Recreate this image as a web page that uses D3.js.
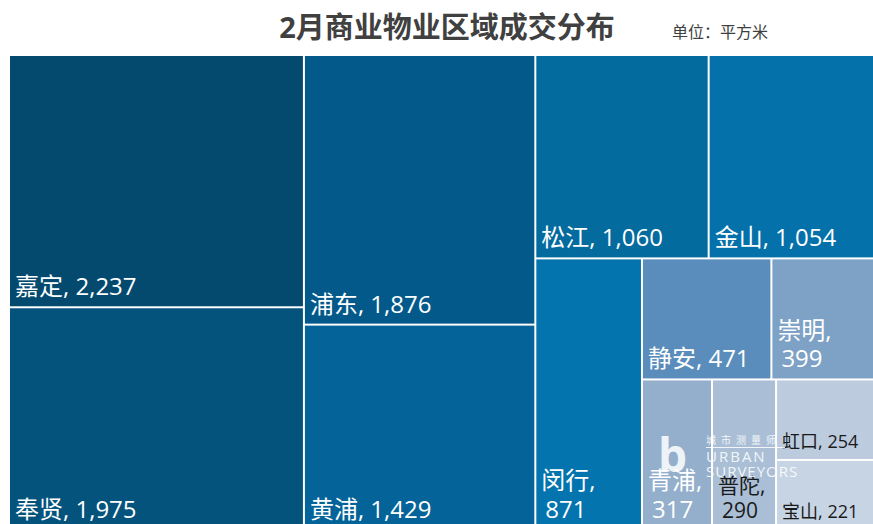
<!DOCTYPE html>
<html>
<head>
<meta charset="utf-8">
<script src="https://cdn.jsdelivr.net/npm/d3@7"></script>
<style>
  html, body { margin: 0; padding: 0; background: #fff; }
  svg { display: block; }
</style>
</head>
<body>
<div id="chart"></div>
<script>
// ── Data ─────────────────────────────────────
const DISTRICTS = ["嘉定","奉贤","浦东","黄浦","松江","金山","闵行","静安","崇明","青浦","普陀","虹口","宝山"];
const AREAS     = [2237, 1975, 1876, 1429, 1060, 1054, 871, 471, 399, 317, 290, 254, 221];
// how many cells go in each strip of the tiling (Excel-style squarify)
const ROW_COUNTS = [2, 2, 2, 1, 2, 1, 1, 1, 1];

// ── Styles ───────────────────────────────────
const CELL_COLORS = ["#034a6e","#03537d","#035a8a","#04649a","#046b9f","#0471aa","#0474ae",
                     "#5a8dbb","#7ea2c5","#93afcc","#aabfd6","#bccbde","#c7d4e4"];
const DARK_TEXT   = ["普陀","虹口","宝山"];
const SMALL_FONT  = { "普陀": 21, "虹口": 18, "宝山": 18 };

const W = 873, H = 524;
const FONT = "'Segoe UI','Open Sans','Noto Sans CJK SC',sans-serif";
const TM = { left: 10, top: 56, width: 870, height: 473 };

const svg = d3.select("#chart").append("svg").attr("width", W).attr("height", H);

// Title
svg.append("text").attr("x", 447).attr("y", 38)
  .attr("text-anchor","middle").attr("font-size","29px").attr("font-weight","bold")
  .attr("font-family", FONT).attr("fill","#404040")
  .text("2月商业物业区域成交分布");
svg.append("text").attr("x", 672).attr("y", 38)
  .attr("font-size","16px").attr("font-family", FONT).attr("fill","#404040")
  .text("单位：平方米");

// ── Tiling: strips along the shorter side, fixed strip sizes ─
function stripTile(parent, x0, y0, x1, y1) {
  const nodes = parent.children;
  let value = parent.value, i = 0, r = 0;
  while (i < nodes.length) {
    const n = ROW_COUNTS[r++] || nodes.length - i;
    const row = nodes.slice(i, i + n);
    i += n;
    const rowValue = d3.sum(row, d => d.value);
    const strip = { children: row, value: rowValue };
    if (x1 - x0 >= y1 - y0) {
      const w = value ? (x1 - x0) * rowValue / value : 0;
      d3.treemapSlice(strip, x0, y0, x0 + w, y1);
      x0 += w;
    } else {
      const h = value ? (y1 - y0) * rowValue / value : 0;
      d3.treemapDice(strip, x0, y0, x1, y0 + h);
      y0 += h;
    }
    value -= rowValue;
  }
}

// ── Treemap layout ───────────────────────────
const root = d3.hierarchy({ children: DISTRICTS.map((name, i) => ({ name, value: AREAS[i] })) })
  .sum(d => d.value || 0)
  .sort((a, b) => b.value - a.value);

d3.treemap()
  .tile(stripTile)
  .size([TM.width, TM.height])
  .paddingInner(2)(root);

const color = d3.scaleOrdinal().domain(DISTRICTS).range(CELL_COLORS);
const fmt = d3.format(",");

const plot = svg.append("g").attr("transform", `translate(${TM.left},${TM.top})`);
const cells = plot.selectAll(".cell").data(root.leaves()).join("g").attr("class","cell");

cells.append("rect")
  .attr("x", d => d.x0).attr("y", d => d.y0)
  .attr("width", d => d.x1 - d.x0).attr("height", d => d.y1 - d.y0)
  .attr("fill", d => color(d.data.name));

// Labels: bottom-left, wrap onto two lines when too wide
cells.each(function (d) {
  const g = d3.select(this);
  const size = SMALL_FONT[d.data.name] || 24;
  const fill = DARK_TEXT.includes(d.data.name) ? "#1a1a1a" : "#ffffff";
  const full = `${d.data.name}, ${fmt(d.value)}`;
  const t = g.append("text").attr("x", d.x0 + 5).attr("y", d.y1 - 11)
    .attr("font-size", size + "px").attr("font-family", FONT).attr("fill", fill)
    .text(full);
  if (t.node().getComputedTextLength() > d.x1 - d.x0 - 10) {
    t.text(null);
    t.append("tspan").attr("x", d.x0 + 5).attr("y", d.y1 - 11 - size * 1.2).text(`${d.data.name},`);
    t.append("tspan").attr("x", d.x0 + 9).attr("y", d.y1 - 11).text(fmt(d.value));
  }
});

// ── Watermark ────────────────────────────────
const wm = svg.append("g").attr("opacity", 0.85).attr("fill", "#ffffff");
wm.append("text").attr("x", 658).attr("y", 472)
  .attr("font-size","46px").attr("font-weight","bold").attr("font-family", FONT).text("b");
wm.append("text").attr("x", 706).attr("y", 444)
  .attr("font-size","10px").attr("letter-spacing","5px").attr("font-family", FONT).text("城市测量师");
wm.append("line").attr("x1", 706).attr("x2", 785).attr("y1", 447.5).attr("y2", 447.5)
  .attr("stroke","#ffffff").attr("stroke-width",1);
wm.append("text").attr("x", 706).attr("y", 462)
  .attr("font-size","15px").attr("letter-spacing","2px").attr("font-family", FONT).text("URBAN");
wm.append("text").attr("x", 706).attr("y", 477)
  .attr("font-size","15px").attr("letter-spacing","1px").attr("font-family", FONT).text("SURVEYORS");
</script>
</body>
</html>
